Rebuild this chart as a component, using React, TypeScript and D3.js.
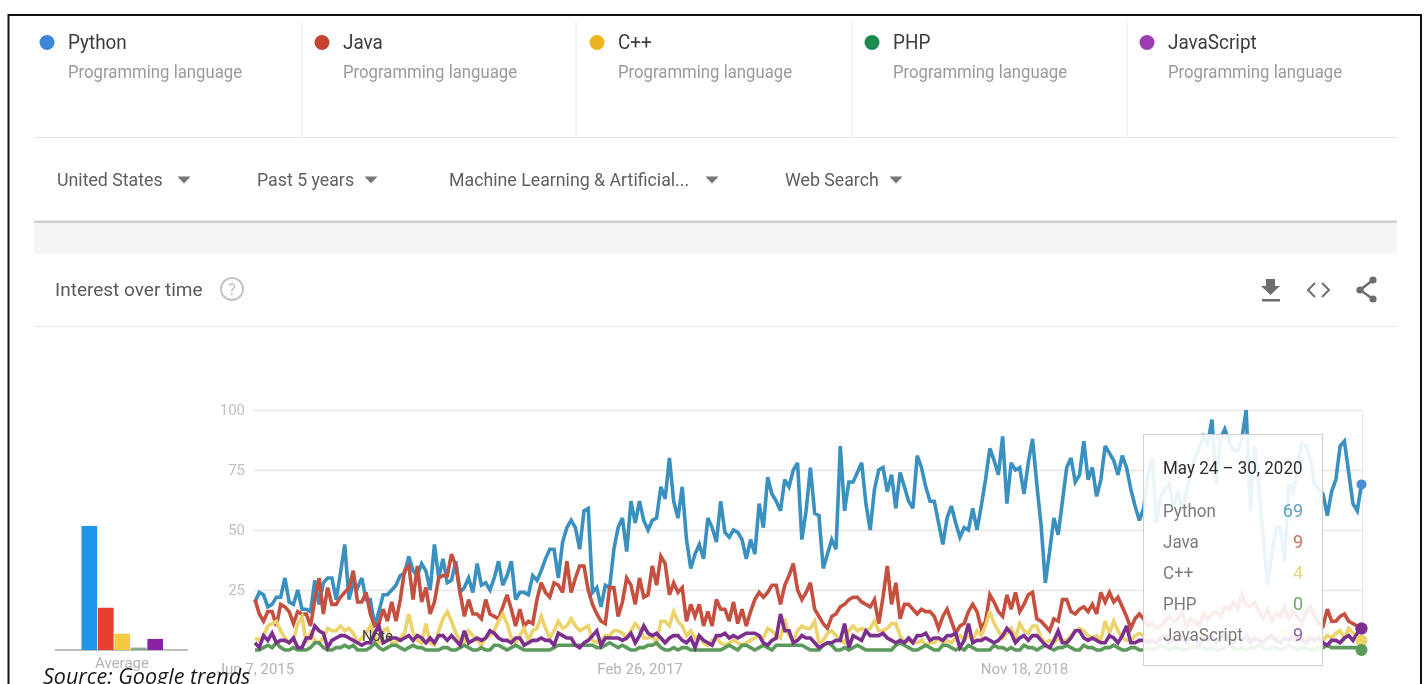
import * as d3 from 'd3';
import React, { useEffect, useRef } from 'react';

const python = [
  20,24,23,18,19,22,22,30,20,19,25,17,17,16,29,19,28,30,30,21,
  32,44,21,28,26,30,21,21,10,16,23,23,25,27,31,32,39,33,31,36,
  33,25,44,30,38,28,29,37,24,26,30,24,36,27,28,25,30,37,27,31,
  37,21,24,24,23,31,29,33,38,42,42,30,45,51,54,51,42,58,59,24,
  26,18,27,26,
  42,51,55,41,62,53,62,54,50,54,55,68,63,80,62,55,68,46,34,40,
  44,38,55,51,45,62,49,47,50,49,46,38,46,40,61,51,72,65,62,58,
  71,68,75,78,46,58,76,57,56,34,40,46,42,85,58,70,70,74,78,61,
  50,67,75,76,66,73,59,74,68,62,59,81,76,68,62,62,53,44,55,60,
  53,47,51,50,59,50,60,71,84,79,73,
  89,61,78,75,76,65,78,88,69,52,28,41,55,48,62,76,80,70,73,87,
  71,76,64,71,85,82,79,73,81,76,67,60,54,59,
  73,80,53,64,67,69,60,66,58,66,73,80,84,89,86,96,
  69,88,92,87,83,83,88,100,58,85,67,48,27,40,51,51,37,69,66,76,
  86,85,80,69,67,65,56,66,71,85,87,74,61,58,69,
];

const java = [
  21,15,12,16,16,10,19,18,16,11,16,15,15,10,21,30,15,26,19,19,
  22,24,26,33,20,20,24,15,10,11,17,12,20,12,21,33,35,21,35,20,
  26,15,20,30,31,31,40,35,24,14,21,15,15,13,21,15,14,13,18,23,
  17,10,17,10,12,11,21,28,24,22,28,27,24,37,24,30,35,35,25,19,
  15,12,11,26,
  26,14,20,30,27,19,30,22,23,35,27,39,36,23,28,24,26,12,19,14,
  19,10,16,10,21,17,17,12,20,11,17,10,16,21,24,22,24,27,27,19,
  27,31,36,25,21,24,28,17,14,11,9,14,15,18,19,21,22,22,20,19,
  18,21,11,22,35,19,28,13,19,19,17,15,17,16,16,14,9,14,17,12,
  7,10,11,16,19,16,9,12,23,20,16,
  14,23,17,24,16,19,23,24,13,12,10,8,13,12,21,21,16,15,17,18,
  16,19,15,24,20,24,20,22,18,14,9,13,15,13,
  10,11,9,10,12,14,12,13,16,10,13,12,10,15,13,15,16,14,18,17,
  20,17,23,19,18,20,16,13,17,12,15,14,18,13,16,14,11,16,18,14,
  11,10,17,12,12,14,15,12,11,10,9,
];

const cpp = [
  5,4,6,10,11,12,8,5,3,4,11,14,3,7,4,3,5,9,8,8,
  10,8,9,7,3,5,7,10,6,3,8,9,3,3,5,7,15,7,4,3,
  11,3,2,8,13,16,12,7,4,3,8,6,4,2,5,6,8,12,15,11,
  5,3,6,9,4,8,9,14,9,5,8,12,9,10,13,10,8,9,10,4,
  3,4,6,6,
  8,8,7,5,8,11,9,5,5,6,3,12,12,10,16,12,10,6,8,5,
  6,3,2,4,5,3,2,3,4,3,2,3,4,5,6,5,9,8,6,5,
  13,6,4,8,10,9,9,12,3,4,7,8,6,4,3,8,10,8,9,8,
  9,12,8,8,9,11,11,6,3,4,3,3,4,2,3,3,5,3,4,3,
  5,6,4,6,4,8,6,10,16,11,8,
  5,7,9,5,11,8,7,10,10,5,3,4,3,5,4,4,6,8,9,8,
  6,5,6,4,12,7,12,8,5,4,4,6,7,6,
  4,3,5,4,6,4,3,5,6,4,3,6,5,8,6,4,5,7,5,4,
  6,5,3,7,5,4,5,3,6,4,5,6,8,7,5,6,4,5,6,
  5,6,4,6,5,7,8,5,9,7,6,4,
];

const php = [
  0,0,1,2,1,3,1,0,0,1,0,0,0,1,3,3,1,0,0,1,
  1,2,1,2,0,0,0,1,3,1,0,1,2,2,1,0,1,2,1,1,
  0,0,0,0,1,1,0,0,1,2,1,0,0,1,0,0,2,2,1,0,
  1,2,1,0,0,0,0,0,0,0,1,2,2,2,2,2,2,2,2,2,
  1,1,2,3,2,1,2,1,0,0,1,1,2,2,3,1,0,0,1,0,
  1,1,0,0,0,0,0,0,0,0,1,2,1,0,2,2,1,0,1,2,
  1,0,2,2,2,2,2,2,2,1,0,0,0,2,3,2,0,0,1,0,
  1,2,1,0,0,0,0,0,0,0,2,3,2,1,0,0,1,2,1,0,
  0,2,2,1,0,1,0,2,1,0,0,0,0,2,1,1,0,1,0,0,
  2,1,1,0,1,2,1,0,1,1,2,1,0,0,2,1,1,0,0,1,
  1,2,1,0,0,1,1,0,0,1,0,1,2,1,0,1,1,0,0,1,
  1,2,1,0,1,0,0,1,2,1,0,1,0,1,1,2,1,0,1,1,
  0,1,2,1,0,1,1,0,0,1,1,2,1,1,1,1,1,1,1,0,
];

const javascript = [
  3,1,6,4,7,3,4,4,3,5,1,1,5,5,10,8,7,1,4,5,
  6,6,5,4,3,2,3,3,7,10,3,4,5,5,4,5,6,4,6,5,
  3,5,3,6,6,4,6,4,2,8,3,4,5,4,5,8,7,5,4,4,
  3,5,5,2,3,4,4,5,4,4,2,7,6,5,5,2,1,3,4,6,
  8,2,5,5,
  5,5,4,5,7,3,6,10,7,6,7,5,3,5,6,6,4,3,5,1,
  6,4,3,2,6,6,7,5,6,5,6,7,7,7,6,3,2,4,5,15,
  8,8,3,4,6,5,5,3,1,2,3,3,4,4,11,1,6,5,4,8,
  6,6,6,7,5,4,3,4,3,5,3,6,6,7,4,5,5,4,6,6,
  7,1,4,11,3,4,4,5,4,3,4,
  6,9,7,3,5,6,4,6,6,4,2,1,4,8,3,3,5,8,8,5,
  4,5,4,3,3,6,5,3,6,10,3,3,4,4,
  3,4,3,5,6,3,5,4,6,3,5,4,2,5,4,6,3,5,7,4,
  3,5,4,6,3,5,4,3,5,6,4,3,5,4,6,5,4,3,5,
  4,5,3,2,4,4,3,5,6,4,7,9,
];

const seriesNames = ['Python', 'Java', 'C++', 'PHP', 'JavaScript'];
const seriesData = [python, java, cpp, php, javascript];
const lineColors = ['#3a90bf', '#c5503f', '#ecd36c', '#5b9a5a', '#7d2f8e'];
const legendColors = ['#3f86d8', '#c8432f', '#eeb420', '#1c8a4c', '#9a3db0'];
const averages = [51.7, 17.6, 6.8, 1, 4.6];
const averageColors = ['#2196e8', '#e8402f', '#f6ca40', '#8ba892', '#8a22a6'];
const tooltipValues = [69, 9, 4, 0, 9];
const tooltipColors = ['#5b9fc4', '#c9705f', '#ecd777', '#6da76c', '#9460a3'];
const yTicks = [25, 50, 75, 100];
const xTicks = [new Date(Date.UTC(2015, 5, 7)), new Date(Date.UTC(2017, 1, 26)), new Date(Date.UTC(2018, 10, 18))];
const filters = ['United States', 'Past 5 years', 'Machine Learning & Artificial...', 'Web Search'];
const filterX = [57, 257, 449, 785];
const arrowX = [184, 371, 712, 896];
const legendX = [47, 322, 597, 872, 1147];
const dividers = [302, 576, 852, 1127];

const weeks = d3.utcWeek.range(new Date(Date.UTC(2015, 5, 7)), new Date(Date.UTC(2020, 4, 25)));

const font = 'Roboto, sans-serif';
const left = 255;
const right = 1361.5;
const top = 410;
const bottom = 650;

// the source screenshot is squeezed sideways, so text is narrowed a bit
const Squeezed = ({ x, y, k = 0.945, children, ...rest }: any) => (
  <text transform={`translate(${x},${y}) scale(${k},1)`} fontFamily={font} {...rest}>
    {children}
  </text>
);

const App = () => {
  const xAxisRef = useRef<SVGGElement | null>(null);
  const yAxisRef = useRef<SVGGElement | null>(null);

  const x = d3.scaleUtc().domain([weeks[0], weeks[weeks.length - 1]]).range([left, right]);
  const y = d3.scaleLinear().domain([0, 100]).range([bottom, top]);
  const avgX = d3.scaleBand().domain(seriesNames).range([81.5, 163]).paddingInner(0.05);

  const line = d3
    .line<number>()
    .x((d, i) => x(weeks[i]))
    .y((d) => y(d));

  useEffect(() => {
    const yAxis = d3.select(yAxisRef.current);
    yAxis.selectAll('*').remove();
    yAxis.call(d3.axisLeft(y).tickValues(yTicks).tickSize(right - left + 2).tickPadding(9) as any);
    yAxis.attr('transform', `translate(${right + 1},0)`);
    yAxis.select('.domain').remove();
    yAxis.selectAll('.tick line').attr('stroke', '#e6e6e6').attr('stroke-width', 1.5);
    yAxis.selectAll('.tick text').attr('fill', '#c0c0c0').style('font-size', '15px').style('font-family', font);

    const xAxis = d3.select(xAxisRef.current);
    xAxis.selectAll('*').remove();
    xAxis.call(d3.axisBottom(x).tickValues(xTicks).tickSize(0).tickPadding(7).tickFormat(d3.utcFormat('%b %-d, %Y') as any) as any);
    xAxis.select('.domain').remove();
    xAxis.selectAll('.tick text').attr('fill', '#b4b4b4').style('font-size', '15px').style('font-family', font);
  }, []);

  return (
    <svg width={1426} height={684} style={{ position: 'absolute', left: 0, top: 0, display: 'block', background: '#fff', filter: 'blur(0.4px)' }}>
      <rect x={8.5} y={15} width={1412.5} height={680} fill="none" stroke="#111" strokeWidth={2} />

      {/* legend strip */}
      {seriesNames.map((name, i) => (
        <g key={name}>
          <circle cx={legendX[i]} cy={42.5} r={7.5} fill={legendColors[i]} />
          <Squeezed x={legendX[i] + 21} y={49} fontSize={20} fill="#3c3c3c">{name}</Squeezed>
          <Squeezed x={legendX[i] + 21} y={78} k={0.93} fontSize={18} fill="#9a9a9a">Programming language</Squeezed>
        </g>
      ))}
      {dividers.map((d) => (
        <line key={d} x1={d} x2={d} y1={22} y2={137} stroke="#e8e8e8" />
      ))}
      <line x1={34} x2={1397} y1={137.5} y2={137.5} stroke="#e4e4e4" />

      {/* filter row */}
      {filters.map((f, i) => (
        <g key={f}>
          <Squeezed x={filterX[i]} y={186} k={0.96} fontSize={18.5} fill="#5f5f5f">{f}</Squeezed>
          <path d={`M${arrowX[i] - 6.5},176.5 h13 l-6.5,7 z`} fill="#777" />
        </g>
      ))}
      <rect x={34} y={223} width={1363} height={31} fill="#f5f5f5" />
      <rect x={34} y={220.5} width={1363} height={2.5} fill="#cfcfcf" />

      {/* card header */}
      <text x={55} y={296} fontSize={19} fontFamily={font} fill="#5a5a5a">Interest over time</text>
      <circle cx={232} cy={289} r={11} fill="none" stroke="#c4c4c4" strokeWidth={2} />
      <text x={232} y={295} fontSize={16} fontFamily={font} textAnchor="middle" fill="#bdbdbd">?</text>
      <path d="M1266,279 h9 v7 h5 l-9.500,9 l-9.500,-9 h5 z M1262,299 h18 v2.500 h-18 z" fill="#6e6e6e" />
      <path d="M1315,283 l-7,7 l7,7 M1322,283 l7,7 l-7,7" fill="none" stroke="#6e6e6e" strokeWidth={2} />
      <path d="M1373,280 L1360,290 L1373,299" fill="none" stroke="#6e6e6e" strokeWidth={2.5} />
      <circle cx={1373} cy={280} r={3.6} fill="#6e6e6e" />
      <circle cx={1360} cy={290} r={3.6} fill="#6e6e6e" />
      <circle cx={1373} cy={299} r={3.6} fill="#6e6e6e" />
      <line x1={34} x2={1397} y1={326.5} y2={326.5} stroke="#e8e8e8" />

      {/* average bars */}
      <line x1={55} x2={188} y1={650} y2={650} stroke="#a9a9a9" strokeWidth={1.5} />
      {seriesNames.map((name, i) => (
        <rect key={name} x={avgX(name)} y={y(averages[i])} width={avgX.bandwidth()} height={bottom - y(averages[i])} fill={averageColors[i]} />
      ))}
      <text x={122} y={668} fontSize={15} fontFamily={font} textAnchor="middle" fill="#b4b4b4">Average</text>

      {/* main chart */}
      <g ref={yAxisRef} />
      <g ref={xAxisRef} transform={`translate(0,${bottom + 6})`} />
      <line x1={right + 1} x2={right + 1} y1={top} y2={bottom} stroke="#e6e6e6" />
      {seriesData.map((s, i) => (
        <path key={seriesNames[i]} d={line(s) as string} fill="none" stroke={lineColors[i]} strokeWidth={3.6} strokeLinejoin="miter" strokeMiterlimit={3} />
      ))}
      {seriesData.map((s, i) => (
        <circle key={seriesNames[i]} cx={right} cy={y(s[s.length - 1])} r={i === 0 ? 5 : 6} fill={i === 1 ? '#8e2aa0' : i === 0 ? '#4a90d9' : lineColors[i]} />
      ))}
      <text x={362} y={641} fontSize={14.5} fontFamily={font} fill="#444">Note</text>

      {/* tooltip */}
      <rect x={1143.5} y={434.5} width={179} height={231} fill="#fff" fillOpacity={0.9} stroke="#cfcfcf" />
      <Squeezed x={1163} y={474} k={0.97} fontSize={17.5} fill="#2c2c2c">May 24 – 30, 2020</Squeezed>
      {seriesNames.map((name, i) => (
        <g key={name}>
          <Squeezed x={1163} y={517 + i * 31} fontSize={18} fill="#7c7c7c">{name}</Squeezed>
          <text x={1303} y={517 + i * 31} fontFamily={font} fontSize={18} fill={tooltipColors[i]} textAnchor="end">{tooltipValues[i]}</text>
        </g>
      ))}

      <text x={43} y={684} fontSize={21.5} fontFamily="'Open Sans', sans-serif" fontStyle="italic" fill="#1a1a1a">Source: Google trends</text>
    </svg>
  );
};

export default App;
